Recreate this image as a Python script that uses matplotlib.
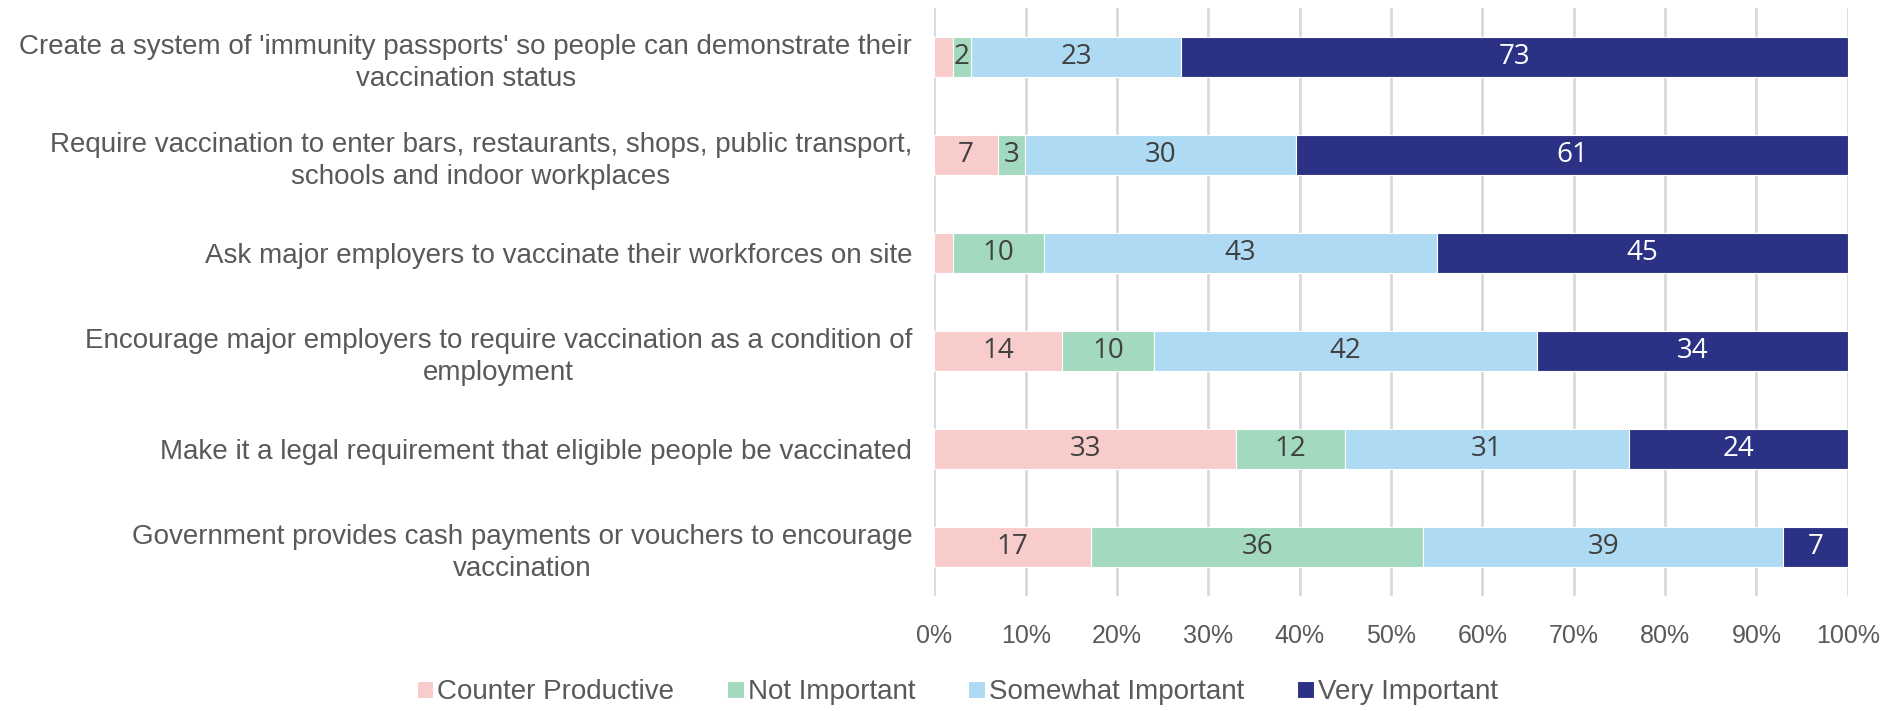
import matplotlib
matplotlib.use("Agg")
import matplotlib.pyplot as plt
import numpy as np

CATEGORIES = [
    "Create a system of 'immunity passports' so people can demonstrate their\nvaccination status",
    "Require vaccination to enter bars, restaurants, shops, public transport,\nschools and indoor workplaces",
    "Ask major employers to vaccinate their workforces on site",
    "Encourage major employers to require vaccination as a condition of\nemployment",
    "Make it a legal requirement that eligible people be vaccinated",
    "Government provides cash payments or vouchers to encourage\nvaccination",
]
SERIES = ["Counter Productive", "Not Important", "Somewhat Important", "Very Important"]
COUNTER_PRODUCTIVE = [2, 7, 2, 14, 33, 17]
NOT_IMPORTANT = [2, 3, 10, 10, 12, 36]
SOMEWHAT_IMPORTANT = [23, 30, 43, 42, 31, 39]
VERY_IMPORTANT = [73, 61, 45, 34, 24, 7]
# Excel hid the labels on the tiny counter-productive slivers
SHOW_COUNTER_LABEL = [False, True, False, True, True, True]

COLORS = ["#F9CCCC", "#A2D9BF", "#AEDAF4", "#2B3285"]
TEXT_COLORS = ["#404040", "#404040", "#404040", "white"]
GREY = "#595959"

values = np.array([COUNTER_PRODUCTIVE, NOT_IMPORTANT, SOMEWHAT_IMPORTANT, VERY_IMPORTANT], dtype=float)
pct = values / values.sum(axis=0) * 100

fig = plt.figure(figsize=(19.03, 7.11), dpi=100)
ax = fig.add_axes([0.491, 0.162, 0.480, 0.827])

y = np.arange(len(CATEGORIES))
left = np.zeros(len(CATEGORIES))
for i, name in enumerate(SERIES):
    ax.barh(y, pct[i], left=left, height=0.41, color=COLORS[i], label=name,
            edgecolor="white", linewidth=0.8, zorder=3)
    for j in range(len(CATEGORIES)):
        if i == 0 and not SHOW_COUNTER_LABEL[j]:
            continue
        ax.text(left[j] + pct[i][j] / 2, y[j], f"{int(values[i][j])}",
                ha="center", va="center", fontsize=20, family="Open Sans",
                color=TEXT_COLORS[i], zorder=4)
    left += pct[i]

ax.set_ylim(len(CATEGORIES) - 0.5, -0.5)
ax.set_xlim(0, 100)
ax.set_yticks(y)
ax.set_yticklabels(CATEGORIES, fontsize=20, family="Liberation Sans", color=GREY,
                   ha="right", multialignment="center", linespacing=1.3)
ax.tick_params(axis="y", length=0, pad=16)
ax.set_xticks(np.arange(0, 101, 10))
ax.set_xticklabels([f"{t}%" for t in range(0, 101, 10)], fontsize=18,
                   family="Liberation Sans", color=GREY)
ax.tick_params(axis="x", length=0, pad=20)
ax.grid(axis="x", color="#D9D9D9", linewidth=2, zorder=0)
for s in ax.spines.values():
    s.set_visible(False)

leg = fig.legend(loc="lower center", bbox_to_anchor=(0.503, -0.027), ncol=4,
                 frameon=False, handlelength=0.6, handleheight=0.6,
                 handletextpad=0.15, columnspacing=1.9,
                 prop={"family": "Liberation Sans", "size": 20})
for t in leg.get_texts():
    t.set_color(GREY)

fig.savefig("out.png", dpi=100)
